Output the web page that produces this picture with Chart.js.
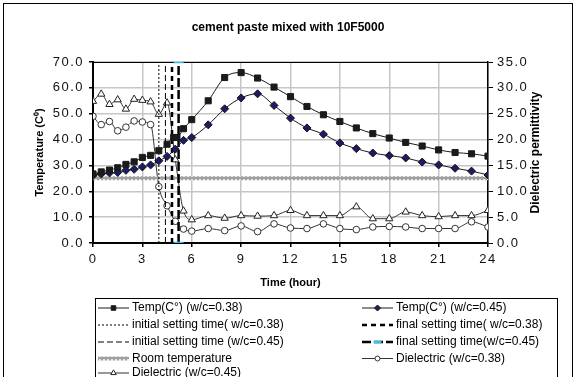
<!DOCTYPE html>
<html>
<head>
<meta charset="utf-8">
<title>cement paste mixed with 10F5000</title>
<script src="https://cdn.jsdelivr.net/npm/chart.js@4.4.0/dist/chart.umd.min.js"></script>
<style>
  body { margin: 0; background: #fff; }
  #frame { position: absolute; left: 3px; top: 3px; width: 570px; height: 380px; border: 1px solid #000; box-sizing: border-box; }
  #chart { position: absolute; left: 0; top: 0; }
</style>
</head>
<body>
<div id="frame"></div>
<canvas id="chart" width="576" height="377"></canvas>
<script>
// temperature (left axis, C)
const tempHours38 = [0, 0.5, 1, 1.5, 2, 2.5, 3, 3.5, 4, 4.5, 4.9, 5.1, 5.5, 6, 7, 8, 9, 10, 11, 12, 13, 14, 15, 16, 17, 18, 19, 20, 21, 22, 23, 24];
const temp38 = [26.7, 27.5, 28.2, 29.1, 30.4, 31.4, 33.1, 33.9, 35.7, 38.2, 40.8, 40.8, 44.2, 47.7, 55.0, 64.0, 65.9, 63.8, 60.3, 56.6, 52.8, 49.6, 47.0, 44.5, 42.3, 40.6, 38.9, 37.5, 36.0, 35.0, 34.5, 33.6];
const tempHours45 = [0, 0.5, 1, 1.5, 2, 2.5, 3, 3.5, 4, 4.5, 5, 5.5, 6, 7, 8, 9, 10, 11, 12, 13, 14, 15, 16, 17, 18, 19, 20, 21, 22, 23, 24];
const temp45 = [26.2, 26.7, 27.1, 27.3, 28.1, 28.5, 29.4, 30.2, 31.8, 33.5, 36.3, 39.7, 40.8, 45.7, 51.9, 56.1, 57.7, 53.2, 48.3, 44.5, 42.1, 38.7, 36.5, 34.8, 33.8, 32.9, 31.3, 30.2, 28.9, 27.8, 26.3];

// dielectric permittivity (right axis)
const dielHours = [0, 0.5, 1, 1.5, 2, 2.5, 3, 3.5, 4, 4.5, 5, 5.5, 6, 7, 8, 9, 10, 11, 12, 13, 14, 15, 16, 17, 18, 19, 20, 21, 22, 23, 24];
const diel38 = [24.5, 22.9, 23.5, 21.7, 22.4, 23.6, 23.4, 22.9, 10.9, 7.2, 4.2, 2.7, 2.3, 2.8, 2.4, 3.3, 2.2, 3.7, 2.9, 2.8, 3.7, 2.8, 2.6, 3.1, 3.2, 3.1, 2.8, 2.8, 2.8, 4.1, 3.1];
const diel45 = [27.4, 28.8, 26.8, 27.7, 25.9, 27.8, 27.6, 27.3, 24.9, 27.1, 16.1, 6.2, 4.5, 5.3, 4.8, 5.3, 5.2, 5.3, 6.3, 5.3, 5.3, 5.3, 7.0, 4.7, 4.7, 6.0, 5.3, 5.1, 5.3, 5.3, 6.3];

// setting times (hour) and room temperature
const initialSet38 = 4.0;
const initialSet45 = 4.4;
const finalSet38 = 4.8;
const finalSet45 = 5.2;
const roomTemp = 25;

const hourTicks = [0, 3, 6, 9, 12, 15, 18, 21, 24];
const tempRange = [0, 70];
const dielRange = [0, 35];

const FONT = "'Liberation Sans', Arial, sans-serif";

function pairs(xs, ys) {
  return xs.map((x, i) => ({ x: x, y: ys[i] }));
}

function vline(h) {
  return [{ x: h, y: tempRange[0] }, { x: h, y: tempRange[1] }];
}

// small tile of rings for the room temperature band
function ringPattern() {
  let c = document.createElement('canvas');
  c.width = 4;
  c.height = 4;
  let g = c.getContext('2d');
  g.fillStyle = '#e4e4e4';
  g.fillRect(0, 0, 4, 4);
  g.strokeStyle = '#5a5a5a';
  g.lineWidth = 0.8;
  g.beginPath();
  g.arc(2, 2, 1.3, 0, Math.PI * 2);
  g.stroke();
  return g.createPattern(c, 'repeat');
}

const lineBase = {
  showLine: true,
  borderWidth: 1,
  cubicInterpolationMode: 'monotone',
  pointBorderWidth: 1
};

const setLine = {
  showLine: true,
  pointRadius: 0,
  borderColor: '#000',
  yAxisID: 'y'
};

const datasets = [
  Object.assign({}, lineBase, {
    label: 'Temp(C°) (w/c=0.38)', data: pairs(tempHours38, temp38), yAxisID: 'y',
    borderColor: '#1a1a1a', pointStyle: 'rect', pointRadius: 4.3,
    pointBackgroundColor: '#1a1a1a', pointBorderColor: '#1a1a1a'
  }),
  Object.assign({}, lineBase, {
    label: 'Temp(C°) (w/c=0.45)', data: pairs(tempHours45, temp45), yAxisID: 'y',
    borderColor: '#1a1a1a', pointStyle: 'rectRot', pointRadius: 4,
    pointBackgroundColor: '#1c1c66', pointBorderColor: '#111'
  }),
  Object.assign({}, setLine, {
    label: 'initial setting time( w/c=0.38)', data: vline(initialSet38),
    borderWidth: 1, borderDash: [2, 2]
  }),
  Object.assign({}, setLine, {
    label: 'final setting time( w/c=0.38)', data: vline(finalSet38),
    borderWidth: 2.5, borderDash: [5, 4]
  }),
  Object.assign({}, setLine, {
    label: 'initial setting time (w/c=0.45)', data: vline(initialSet45),
    borderWidth: 1, borderDash: [6, 3]
  }),
  Object.assign({}, setLine, {
    label: 'final setting time(w/c=0.45)', data: vline(finalSet45),
    borderWidth: 2.5, borderDash: [9, 3],
    pointRadius: 5, pointStyle: 'line', pointBorderColor: '#33c3ee', pointBorderWidth: 2.5
  }),
  {
    label: 'Room temperature', data: [{ x: 0, y: roomTemp }, { x: 24, y: roomTemp }],
    showLine: true, yAxisID: 'y', pointRadius: 0, borderWidth: 4, borderColor: ringPattern()
  },
  Object.assign({}, lineBase, {
    label: 'Dielectric (w/c=0.38)', data: pairs(dielHours, diel38), yAxisID: 'y1',
    borderColor: '#333', pointStyle: 'circle', pointRadius: 3.3,
    pointBackgroundColor: '#fff', pointBorderColor: '#333'
  }),
  Object.assign({}, lineBase, {
    label: 'Dielectric (w/c=0.45)', data: pairs(dielHours, diel45), yAxisID: 'y1',
    borderColor: '#333', pointStyle: 'triangle', pointRadius: 4.2,
    pointBackgroundColor: '#fff', pointBorderColor: '#222'
  })
];

// title, axis titles, plot frame and the boxed two-column legend
const decorations = {
  id: 'decorations',
  beforeDraw(chart) {
    // tick labels are set a little loose
    chart.ctx.letterSpacing = '1.5px';
  },
  beforeDatasetsDraw(chart) {
    const ctx = chart.ctx;
    const a = chart.chartArea;
    ctx.save();
    ctx.strokeStyle = '#000';
    ctx.lineWidth = 1;
    ctx.beginPath();
    ctx.moveTo(a.left, a.top + 0.5);
    ctx.lineTo(a.right, a.top + 0.5);
    ctx.stroke();
    ctx.restore();
  },
  afterDraw(chart) {
    const ctx = chart.ctx;
    const a = chart.chartArea;
    ctx.save();
    ctx.letterSpacing = '0px';
    ctx.fillStyle = '#000';
    ctx.textAlign = 'center';
    ctx.textBaseline = 'middle';

    ctx.font = 'bold 12px ' + FONT;
    ctx.fillText('cement paste mixed with 10F5000', 288, 28);

    ctx.font = 'bold 11px ' + FONT;
    ctx.fillText('Time (hour)', (a.left + a.right) / 2, 283);

    ctx.save();
    ctx.translate(40, (a.top + a.bottom) / 2);
    ctx.rotate(-Math.PI / 2);
    ctx.font = 'bold 11px ' + FONT;
    ctx.fillText('Temperature (C⁰)', 0, 0);
    ctx.restore();

    ctx.save();
    ctx.translate(536, (a.top + a.bottom) / 2);
    ctx.rotate(-Math.PI / 2);
    ctx.font = 'bold 12px ' + FONT;
    ctx.fillText('Dielectric permittivity', 0, 0);
    ctx.restore();

    // legend
    const box = { left: 95, top: 298, right: 557, bottom: 380 };
    ctx.strokeStyle = '#000';
    ctx.lineWidth = 1;
    ctx.strokeRect(box.left + 0.5, box.top + 0.5, box.right - box.left, box.bottom - box.top);

    const cols = [98, 362];
    const rowY = [308, 325, 342, 358.5, 373];
    const symW = 31;
    ctx.font = '12px ' + FONT;
    ctx.textAlign = 'left';
    chart.data.datasets.forEach((ds, i) => {
      const x = cols[i % 2];
      const y = rowY[Math.floor(i / 2)];
      ctx.save();
      ctx.strokeStyle = ds.borderColor;
      ctx.lineWidth = ds.borderWidth;
      ctx.setLineDash(ds.borderDash || []);
      ctx.beginPath();
      ctx.moveTo(x, y);
      ctx.lineTo(x + symW, y);
      ctx.stroke();
      ctx.setLineDash([]);
      if (ds.pointRadius > 0) {
        ctx.fillStyle = ds.pointBackgroundColor || '#000';
        ctx.strokeStyle = ds.pointBorderColor || '#000';
        ctx.lineWidth = ds.pointBorderWidth || 1;
        const r = ds.pointStyle === 'line' ? 4 : ds.pointRadius * 0.75;
        Chart.helpers.drawPoint(ctx, { pointStyle: ds.pointStyle, radius: r, borderWidth: ctx.lineWidth, rotation: 0 }, x + symW / 2, y);
      }
      ctx.restore();
      ctx.fillStyle = '#000';
      ctx.fillText(ds.label, x + symW + 3, y);
    });
    ctx.restore();
  }
};

const axisFont = { family: FONT, size: 13 };

new Chart(document.getElementById('chart'), {
  type: 'scatter',
  data: { datasets: datasets },
  plugins: [decorations],
  options: {
    responsive: false,
    animation: false,
    layout: { padding: { left: 0, right: 0, top: 62, bottom: 0 } },
    plugins: {
      legend: { display: false },
      tooltip: { enabled: false },
      title: { display: false }
    },
    scales: {
      x: {
        type: 'linear',
        min: hourTicks[0],
        max: hourTicks[hourTicks.length - 1],
        afterFit: s => { s.height = 134; },
        afterBuildTicks: s => { s.ticks = hourTicks.map(v => ({ value: v })); },
        ticks: { color: '#111', font: axisFont, padding: 5, maxRotation: 0 },
        grid: { color: '#c6c6c6', lineWidth: 1.5, tickColor: '#000', tickLength: 4 },
        border: { color: '#000', width: 2 }
      },
      y: {
        position: 'left',
        min: tempRange[0],
        max: tempRange[1],
        afterFit: s => { s.width = 93; },
        ticks: { stepSize: 10, color: '#111', font: axisFont, padding: 5, callback: v => v.toFixed(1) },
        grid: { color: '#c6c6c6', lineWidth: 1.5, tickColor: '#000', tickLength: 4 },
        border: { color: '#000', width: 2 }
      },
      y1: {
        position: 'right',
        min: dielRange[0],
        max: dielRange[1],
        afterFit: s => { s.width = 88; },
        ticks: { stepSize: 5, color: '#111', font: axisFont, padding: 4, callback: v => v.toFixed(1) },
        grid: { drawOnChartArea: false, tickColor: '#000', tickLength: 5 },
        border: { color: '#000', width: 1.5 }
      }
    }
  }
});
</script>
</body>
</html>
